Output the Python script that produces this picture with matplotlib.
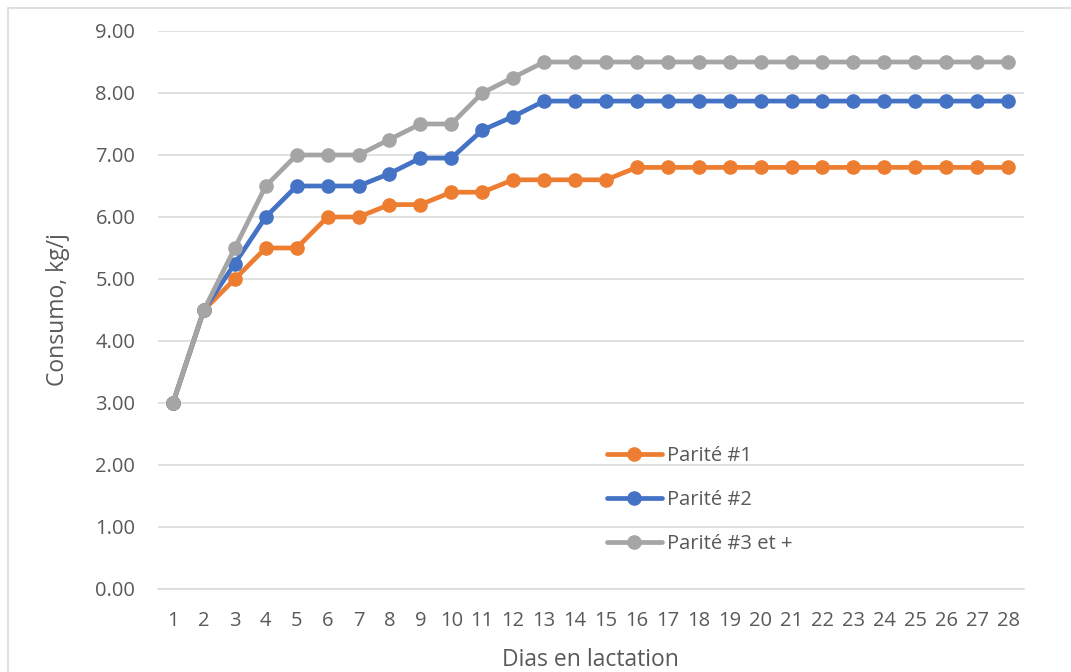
import matplotlib
matplotlib.use("Agg")
from matplotlib import pyplot as plt
from matplotlib.patches import Rectangle

# data
days = list(range(1, 29))
parite1 = [3.0, 4.5, 5.0, 5.5, 5.5, 6.0, 6.0, 6.2, 6.2, 6.4, 6.4, 6.6, 6.6, 6.6,
           6.6, 6.8, 6.8, 6.8, 6.8, 6.8, 6.8, 6.8, 6.8, 6.8, 6.8, 6.8, 6.8, 6.8]
parite2 = [3.0, 4.5, 5.25, 6.0, 6.5, 6.5, 6.5, 6.7, 6.95, 6.95, 7.4, 7.62, 7.87, 7.87,
           7.87, 7.87, 7.87, 7.87, 7.87, 7.87, 7.87, 7.87, 7.87, 7.87, 7.87, 7.87, 7.87, 7.87]
parite3 = [3.0, 4.5, 5.5, 6.5, 7.0, 7.0, 7.0, 7.25, 7.5, 7.5, 8.0, 8.25, 8.5, 8.5,
           8.5, 8.5, 8.5, 8.5, 8.5, 8.5, 8.5, 8.5, 8.5, 8.5, 8.5, 8.5, 8.5, 8.5]
labels = ["Parité #1", "Parité #2", "Parité #3 et +"]
colors = ["#ED7D31", "#4472C4", "#A5A5A5"]
yticks = [0, 1, 2, 3, 4, 5, 6, 7, 8, 9]

txt = "#595959"
plt.rcParams["font.family"] = ["Open Sans", "DejaVu Sans"]

fig = plt.figure(figsize=(10.71, 6.72), dpi=100)
ax = fig.add_axes([157.5 / 1071, 1 - 589 / 672, 866 / 1071, 558 / 672])

for series, lab, col in zip([parite1, parite2, parite3], labels, colors):
    ax.plot(days, series, color=col, lw=3.4, marker="o", markersize=9.5,
            label=lab, solid_capstyle="round", zorder=3)

ax.set_xlim(0.5, 28.5)
ax.set_ylim(0, 9)
ax.set_yticks(yticks)
ax.set_yticklabels([f"{v:.2f}" for v in yticks])
ax.set_xticks(days)
ax.set_xticklabels([str(d) for d in days])
ax.grid(axis="y", color="#D9D9D9", lw=1.1)
ax.set_axisbelow(True)
for s in ["top", "right", "left"]:
    ax.spines[s].set_visible(False)
ax.spines["bottom"].set_color("#D9D9D9")
ax.spines["bottom"].set_linewidth(1.1)
ax.tick_params(length=0, labelsize=14.5, labelcolor=txt)
ax.tick_params(axis="y", pad=16)
ax.tick_params(axis="x", pad=16)

ax.set_xlabel("Dias en lactation", fontsize=16.5, color=txt, labelpad=12)
ax.set_ylabel("Consumo, kg/j", fontsize=16.5, color=txt, labelpad=18)

fig.legend(loc="upper left", bbox_to_anchor=(607 / 1071, 1 - 446 / 672),
           frameon=False, fontsize=14.5, labelcolor=txt, handlelength=2.73,
           handletextpad=0.25, labelspacing=1.19, borderpad=0, borderaxespad=0)

# light chart border
fig.patches.append(Rectangle((8 / 1071, -0.1), 2, 1.1 - 8 / 672,
                             transform=fig.transFigure, fill=False,
                             edgecolor="#D9D9D9", lw=1.2))

fig.savefig("out.png", dpi=100)
